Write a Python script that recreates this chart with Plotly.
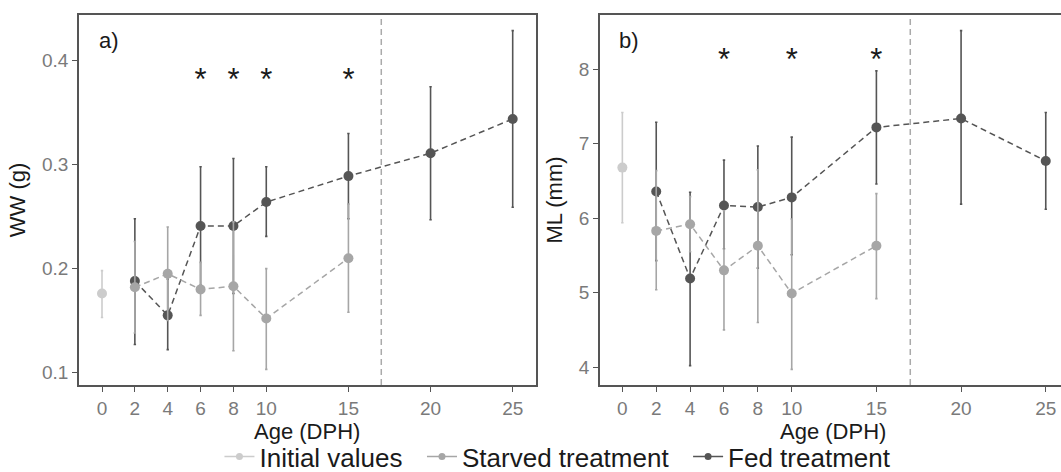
import numpy as np
import plotly.graph_objects as go

# ---------------- data ----------------
age_ticks = [0, 2, 4, 6, 8, 10, 15, 20, 25]

init_age = [0]
starved_age = [2, 4, 6, 8, 10, 15]
fed_age = [2, 4, 6, 8, 10, 15, 20, 25]

# Wet weight (g)
ww_init = [0.176]
ww_init_hi = [0.198]
ww_init_lo = [0.153]
ww_starved = [0.182, 0.195, 0.180, 0.183, 0.152, 0.210]
ww_starved_hi = [0.226, 0.240, 0.206, 0.245, 0.200, 0.262]
ww_starved_lo = [0.138, 0.150, 0.155, 0.121, 0.103, 0.158]
ww_fed = [0.188, 0.155, 0.241, 0.241, 0.264, 0.289, 0.311, 0.344]
ww_fed_hi = [0.248, 0.190, 0.298, 0.306, 0.298, 0.330, 0.375, 0.429]
ww_fed_lo = [0.127, 0.122, 0.184, 0.176, 0.231, 0.248, 0.247, 0.259]

# Mantle length (mm)
ml_init = [6.68]
ml_init_hi = [7.42]
ml_init_lo = [5.94]
ml_starved = [5.83, 5.92, 5.30, 5.63, 4.99, 5.63]
ml_starved_hi = [6.64, 6.29, 6.10, 6.65, 5.99, 6.33]
ml_starved_lo = [5.04, 5.55, 4.50, 4.60, 3.97, 4.92]
ml_fed = [6.36, 5.19, 6.17, 6.15, 6.28, 7.22, 7.34, 6.77]
ml_fed_hi = [7.29, 6.35, 6.78, 6.97, 7.09, 7.98, 8.52, 7.42]
ml_fed_lo = [5.43, 4.02, 5.59, 5.33, 5.51, 6.46, 6.19, 6.12]

# significance markers
sig_ww_x = [6, 8, 10, 15]
sig_ww_y = [0.379, 0.379, 0.379, 0.379]
sig_ml_x = [6, 10, 15]
sig_ml_y = [8.09, 8.09, 8.09]

split_age = 17
series_names = ["Initial values", "Starved treatment", "Fed treatment"]
x_title = "Age (DPH)"

# ---------------- style ----------------
FONT = "Liberation Sans, Arial, sans-serif"
C_INIT = "#cccccc"
C_STARV = "#a6a6a6"
C_FED = "#555555"
AXIS_C = "#555555"
TICK_C = "#7a7a7a"
TITLE_C = "#1a1a1a"
DASH = "6px,4px"

fig = go.Figure()


def add_series(x, m, hi, lo, color, xa, ya):
    m = np.array(m)
    fig.add_trace(go.Scatter(
        x=x, y=m,
        mode="lines+markers" if len(x) > 1 else "markers",
        line=dict(color=color, width=1.5, dash=DASH),
        marker=dict(color=color, size=10),
        error_y=dict(type="data", symmetric=False,
                     array=np.array(hi) - m, arrayminus=m - np.array(lo),
                     color=color, thickness=1.6, width=1.2),
        xaxis=xa, yaxis=ya, showlegend=False, hoverinfo="skip"))


# panel a
add_series(fed_age, ww_fed, ww_fed_hi, ww_fed_lo, C_FED, "x", "y")
add_series(starved_age, ww_starved, ww_starved_hi, ww_starved_lo, C_STARV, "x", "y")
add_series(init_age, ww_init, ww_init_hi, ww_init_lo, C_INIT, "x", "y")
# panel b
add_series(fed_age, ml_fed, ml_fed_hi, ml_fed_lo, C_FED, "x2", "y2")
add_series(starved_age, ml_starved, ml_starved_hi, ml_starved_lo, C_STARV, "x2", "y2")
add_series(init_age, ml_init, ml_init_hi, ml_init_lo, C_INIT, "x2", "y2")

# asterisks
fig.add_trace(go.Scatter(x=sig_ww_x, y=sig_ww_y, mode="text", text=["*"] * len(sig_ww_x),
                         textfont=dict(family=FONT, size=31, color="#1a1a1a"),
                         xaxis="x", yaxis="y", showlegend=False, hoverinfo="skip"))
fig.add_trace(go.Scatter(x=sig_ml_x, y=sig_ml_y, mode="text", text=["*"] * len(sig_ml_x),
                         textfont=dict(family=FONT, size=31, color="#1a1a1a"),
                         xaxis="x2", yaxis="y2", showlegend=False, hoverinfo="skip"))

# legend entries
for name, col in zip(series_names, [C_INIT, C_STARV, C_FED]):
    fig.add_trace(go.Scatter(x=[None], y=[None], mode="lines+markers", name=name + "\u00a0\u00a0",
                             line=dict(color=col, width=1.5),
                             marker=dict(color=col, size=7),
                             xaxis="x", yaxis="y", hoverinfo="skip"))

# vertical dashed lines
for xr, yr in [("x", "y domain"), ("x2", "y2 domain")]:
    fig.add_shape(type="line", x0=split_age, x1=split_age, y0=0, y1=1,
                  xref=xr, yref=yr, line=dict(color="#aaaaaa", width=1.5, dash=DASH))

W, H = 1061, 472
top_px, bot_px = 15, 385
ydom = [(H - bot_px) / H, (H - top_px) / H]

common_x = dict(tickvals=age_ticks, ticks="outside", ticklen=5, tickwidth=1.2, tickcolor=AXIS_C,
                showline=True, linecolor=AXIS_C, linewidth=1.5, showgrid=False, zeroline=False,
                tickfont=dict(family=FONT, size=19, color=TICK_C))
common_y = dict(ticks="outside", ticklen=5, tickwidth=1.2, tickcolor=AXIS_C,
                showline=True, linecolor=AXIS_C, linewidth=1.5, showgrid=False, zeroline=False,
                tickfont=dict(family=FONT, size=19, color=TICK_C))

xa_dom = [79 / W, 535.7 / W]
xb_dom = [600 / W, 1.0]
title_y = (H - 431) / H

fig.update_layout(
    width=W, height=H,
    margin=dict(l=0, r=0, t=0, b=0, autoexpand=False),
    paper_bgcolor="white", plot_bgcolor="white",
    font=dict(family=FONT),
    xaxis=dict(domain=xa_dom, range=[-1.4, 26.4], anchor="y", mirror=True, **common_x),
    yaxis=dict(domain=ydom, range=[0.088, 0.444], anchor="x", mirror=True,
               tickvals=[0.1, 0.2, 0.3, 0.4], ticktext=["0.1", "0.2", "0.3", "0.4"],
               title=dict(text="WW (g)", font=dict(family=FONT, size=22, color=TITLE_C), standoff=10),
               **common_y),
    xaxis2=dict(domain=xb_dom, range=[-1.32, 25.9], anchor="y2", mirror=True, **common_x),
    yaxis2=dict(domain=ydom, range=[3.76, 8.73], anchor="x2", mirror=False,
                tickvals=[4, 5, 6, 7, 8],
                title=dict(text="ML (mm)", font=dict(family=FONT, size=22, color=TITLE_C), standoff=10),
                **common_y),
    legend=dict(orientation="h", x=0.532, xanchor="center", y=(H - 456.5) / H, yanchor="middle",
                font=dict(family=FONT, size=26, color=TITLE_C), itemwidth=30,
                bgcolor="rgba(0,0,0,0)"),
    annotations=[
        dict(text="a)", x=0.039, y=0.93, xref="x domain", yref="y domain", xanchor="left",
             yanchor="middle", showarrow=False, font=dict(family=FONT, size=22, color=TITLE_C)),
        dict(text="b)", x=0.037, y=0.93, xref="x2 domain", yref="y2 domain", xanchor="left",
             yanchor="middle", showarrow=False, font=dict(family=FONT, size=22, color=TITLE_C)),
        dict(text=x_title, x=(xa_dom[0] + xa_dom[1]) / 2, y=title_y, xref="paper", yref="paper",
             xanchor="center", yanchor="middle", showarrow=False,
             font=dict(family=FONT, size=22, color=TITLE_C)),
        dict(text=x_title, x=(600 + 1066) / 2 / W, y=title_y, xref="paper", yref="paper",
             xanchor="center", yanchor="middle", showarrow=False,
             font=dict(family=FONT, size=22, color=TITLE_C)),
    ],
)

fig.write_html("out.html", config={"displayModeBar": False},
               post_script="document.body.style.margin='0';document.body.style.padding='0';"
                           "document.documentElement.style.margin='0';")
